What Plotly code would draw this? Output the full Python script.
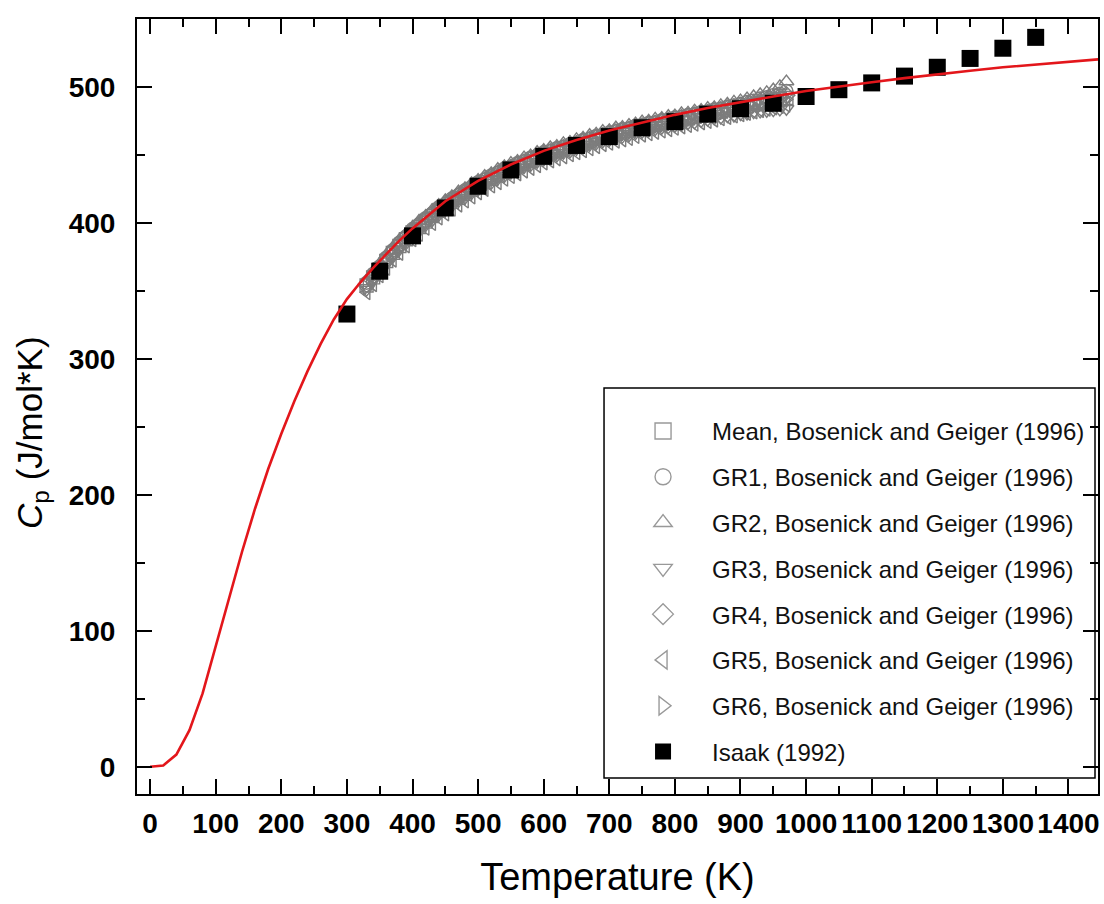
import plotly.graph_objects as go

FONT = "Liberation Sans, Arial, Helvetica, sans-serif"

# Model heat capacity curve (T in K, Cp in J/mol*K)
model_T = [0, 20, 40, 60, 80, 100, 120, 140, 160, 180, 200, 220, 240, 260, 280,
           300, 320, 340, 360, 380, 400, 450, 500, 550, 600, 650, 700, 750, 800,
           850, 900, 950, 1000, 1050, 1100, 1150, 1200, 1250, 1300, 1350, 1400, 1450]
model_cp = [0, 1, 9, 27, 54, 89, 124, 158, 190, 219, 245, 269, 291, 311, 329,
            344, 356, 367, 377, 387, 396, 416, 431, 443, 453, 461, 468, 474, 479.5,
            484.5, 489, 493, 497, 500.5, 503.5, 506.5, 509.5, 512, 514.5, 516.5, 518.5, 520.5]

# Isaak (1992)
isaak_T = [300, 350, 400, 450, 500, 550, 600, 650, 700, 750, 800, 850, 900, 950,
           1000, 1050, 1100, 1150, 1200, 1250, 1300, 1350]
isaak_cp = [333, 364.5, 390.5, 411, 427, 439, 449, 457, 463.5, 470, 474.5, 480, 484, 488,
            493, 498, 503, 508, 514.5, 521, 528.5, 536.5]

# Bosenick and Geiger (1996): common temperature grid
bg_T = list(range(330, 971, 10))

bg_mean = [354, 360, 366, 372, 378, 383, 388, 393, 397, 401, 405, 409, 412, 415.5, 418.5,
           421.5, 424.5, 427.5, 430, 432.5, 435, 437.5, 439.5, 441.5, 443.5, 445.5, 447.5,
           449.5, 451, 452.5, 454, 455.5, 457, 458.5, 460, 461.5, 463, 464, 465.5, 466.5,
           467.5, 469, 470, 471, 472, 473, 474, 475, 476, 477, 478, 479, 480, 481, 482, 483,
           484, 485, 486, 487, 488, 489, 490, 491, 492]
bg_gr1 = [356, 362.5, 368, 374.5, 380, 385.5, 390, 395.5, 399, 403.5, 407, 411.5, 414, 418,
          420.5, 424, 426.5, 430, 432, 435, 437, 440, 441.5, 444, 445.5, 448, 449.5, 452, 453,
          455, 456, 458, 459, 461, 462, 464, 465, 466.5, 467.5, 469, 469.5, 471.5, 472, 473.5,
          474, 475.5, 476, 477.5, 478, 479.5, 480, 481.5, 482, 483.5, 484, 485.5, 486.5, 487.5,
          489, 490, 491.5, 492.5, 494, 495, 497]
bg_gr2 = [357, 364, 370, 376.5, 382, 387.5, 392, 397, 401.5, 405, 409.5, 413, 416.5, 419.5,
          423, 425.5, 429, 431.5, 434.5, 436.5, 439.5, 441.5, 444, 445.5, 448, 449.5, 452,
          453.5, 455.5, 456.5, 458.5, 459.5, 461.5, 462.5, 464.5, 465.5, 467.5, 468, 470, 470.5,
          472, 473, 474.5, 475, 476.5, 477, 478.5, 479, 480.5, 481, 482.5, 483, 484.5, 485,
          486.5, 487.5, 489, 490, 491.5, 493, 494.5, 496, 498, 500.5, 504]
bg_gr3 = [351, 357.5, 363, 369.5, 375, 380.5, 385, 390, 394, 398.5, 402, 406, 409.5, 412.5,
          416, 418.5, 422, 424.5, 427.5, 429.5, 432.5, 434.5, 437, 438.5, 441, 442.5, 445,
          446.5, 448.5, 449.5, 451.5, 452.5, 454.5, 455.5, 457.5, 458.5, 460, 461, 462.5, 463.5,
          464.5, 466, 467, 468, 469, 470, 470.5, 471.5, 472.5, 473.5, 474, 475, 476, 477, 477.5,
          478.5, 479, 480, 480.5, 481.5, 482, 482.5, 483, 483.5, 484]
bg_gr4 = [355, 361, 367.5, 373, 379, 384, 389.5, 394, 398.5, 402, 406.5, 410, 413.5, 416.5,
          420, 422.5, 425.5, 428.5, 431, 433.5, 436, 438.5, 440.5, 442.5, 444.5, 446.5, 448.5,
          450.5, 452, 453.5, 455, 456.5, 458, 459.5, 461, 462.5, 464, 465, 466.5, 467.5, 468.5,
          470, 471, 472, 473, 474, 475, 476, 477, 478, 479, 480, 481, 482, 483, 484, 485, 486,
          487, 488, 489.5, 490.5, 491.5, 493, 494]
bg_gr5 = [349, 355, 361.5, 367, 373, 378, 383.5, 388, 392, 396.5, 400, 404, 407, 410.5, 413.5,
          416.5, 419.5, 422.5, 425, 427.5, 430, 432.5, 434.5, 436.5, 438.5, 440.5, 442.5, 444.5,
          446, 447.5, 449, 450.5, 452, 453.5, 455, 456.5, 458, 459, 460.5, 461.5, 462.5, 464,
          465, 466, 467, 468, 469, 470, 471, 472, 473, 474, 475, 476, 477, 478, 479, 480, 481,
          482, 483, 484, 485, 486, 487]
bg_gr6 = [352.5, 359, 364.5, 371, 376.5, 382, 386.5, 392, 395.5, 400, 403.5, 408, 410.5, 414.5,
          417, 420.5, 423, 426.5, 428.5, 431.5, 433.5, 436.5, 438, 440.5, 442, 444.5, 446, 448.5,
          449.5, 451.5, 452.5, 454.5, 455.5, 457.5, 458.5, 460.5, 461.5, 463, 464, 465.5, 466,
          468, 468.5, 470, 470.5, 472, 472.5, 474, 474.5, 476, 476.5, 478, 478.5, 480, 480.5,
          482, 482.5, 484, 484.5, 486, 487, 488.5, 489, 490.5, 491]

bg_series = [
    ("Mean, Bosenick and Geiger (1996)", bg_mean, "square-open"),
    ("GR1, Bosenick and Geiger (1996)", bg_gr1, "circle-open"),
    ("GR2, Bosenick and Geiger (1996)", bg_gr2, "triangle-up-open"),
    ("GR3, Bosenick and Geiger (1996)", bg_gr3, "triangle-down-open"),
    ("GR4, Bosenick and Geiger (1996)", bg_gr4, "diamond-open"),
    ("GR5, Bosenick and Geiger (1996)", bg_gr5, "triangle-left-open"),
    ("GR6, Bosenick and Geiger (1996)", bg_gr6, "triangle-right-open"),
]

GRAY = "#7d7d7d"
fig = go.Figure()

# measured data, drawn without legend entries
for name, vals, sym in bg_series:
    fig.add_trace(go.Scatter(
        x=bg_T, y=vals, mode="markers", name=name, showlegend=False,
        marker=dict(symbol=sym, size=13, color=GRAY, line=dict(width=1.4, color=GRAY)),
    ))

fig.add_trace(go.Scatter(
    x=isaak_T, y=isaak_cp, mode="markers", name="Isaak (1992)", showlegend=False,
    marker=dict(symbol="square", size=17, color="black"),
))

fig.add_trace(go.Scatter(
    x=model_T, y=model_cp, mode="lines", showlegend=False,
    line=dict(color="#e3161b", width=2.6),
))

# legend entries with larger symbols
for i, (name, vals, sym) in enumerate(bg_series):
    fig.add_trace(go.Scatter(
        x=[None], y=[None], mode="markers", name=name, legendgroup=f"g{i}",
        marker=dict(symbol=sym, size=16, color="#999999", line=dict(width=1.4, color="#999999")),
    ))
fig.add_trace(go.Scatter(
    x=[None], y=[None], mode="markers", name="Isaak (1992)", legendgroup="g7",
    marker=dict(symbol="square", size=16, color="black"),
))

axis_common = dict(
    ticks="inside", ticklen=15, tickwidth=2, tickcolor="black",
    showline=True, linewidth=2, linecolor="black", mirror="ticks",
    showgrid=False, zeroline=False,
    tickfont=dict(family=FONT, size=28, color="black", weight="bold"),
)

fig.update_layout(
    width=1104, height=904,
    margin=dict(l=137, r=4, t=19, b=110),
    paper_bgcolor="white", plot_bgcolor="white",
    font=dict(family=FONT, color="black"),
    xaxis=dict(
        range=[-20, 1445], tick0=0, dtick=100,
        minor=dict(ticks="inside", ticklen=8, tickwidth=2, tickcolor="black", dtick=50, tick0=0),
        ticklabelstandoff=3,
        title=dict(text="Temperature (K)", font=dict(family=FONT, size=38, color="black"), standoff=26),
        **axis_common,
    ),
    yaxis=dict(
        range=[-20, 550], tick0=0, dtick=100,
        minor=dict(ticks="inside", ticklen=8, tickwidth=2, tickcolor="black", dtick=50, tick0=0),
        ticklabelstandoff=14,
        **axis_common,
    ),
    legend=dict(
        x=0.4964, y=0.497, xanchor="left", yanchor="top",
        bgcolor="rgba(255,255,255,0)", borderwidth=0,
        font=dict(family=FONT, size=24, color="#111111"),
        itemwidth=88, tracegroupgap=11.6, traceorder="grouped",
    ),
    # legend frame
    shapes=[dict(
        type="rect", xref="paper", yref="paper",
        x0=(605 - 137) / 963, x1=(1097 - 137) / 963,
        y0=(794 - 778) / 775, y1=(794 - 388) / 775,
        line=dict(color="black", width=1.5), fillcolor="rgba(0,0,0,0)", layer="above",
    )],
    annotations=[dict(
        text="<i>C</i><sub>p</sub> (J/mol*K)", textangle=-90,
        xref="paper", yref="paper", x=0, y=(794 - 433) / 775,
        xanchor="center", yanchor="middle", xshift=-105, showarrow=False,
        font=dict(family=FONT, size=35, color="black"),
    )],
)

fig.write_html("out.html")
